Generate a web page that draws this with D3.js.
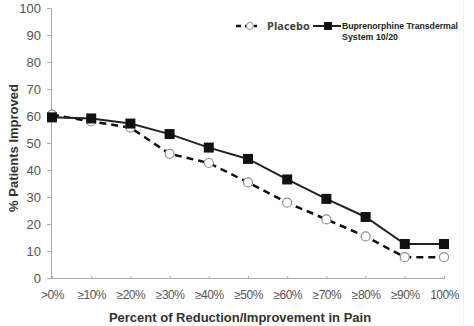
<!DOCTYPE html>
<meta charset="utf-8">
<script src="https://d3js.org/d3.v7.min.js"></script>
<style>
  body { margin: 0; background: #fff; }
</style>
<div id="chart"></div>
<script>

// data
var categories = [">0%", "≥10%", "≥20%", "≥30%", "≥40%", "≥50%", "≥60%", "≥70%", "≥80%", "≥90%", "100%"];
var placebo = [60.5, 58, 55.7, 46, 42.6, 35.4, 27.9, 21.7, 15.4, 7.7, 7.7];
var bupe = [59.5, 59.1, 57.2, 53.3, 48.3, 44.1, 36.5, 29.3, 22.6, 12.6, 12.6];
var yTicks = [0, 10, 20, 30, 40, 50, 60, 70, 80, 90, 100];

var W = 474, H = 326;
var margin = {top: 8, right: 27, bottom: 48, left: 51},
    width = W - margin.left - margin.right,
    height = H - margin.top - margin.bottom;

var svg = d3.select("#chart")
  .append("svg")
    .attr("width", W)
    .attr("height", H)
    .style("font-family", "Arial, 'Liberation Sans', sans-serif");

// faint right edge of the original image
svg.append("line")
  .attr("x1", 463.5).attr("x2", 463.5)
  .attr("y1", 0).attr("y2", H)
  .attr("stroke", "#f0f0f0");

var g = svg.append("g")
  .attr("transform", "translate(" + margin.left + "," + margin.top + ")");

var x = d3.scalePoint()
  .domain(categories)
  .range([1, width - 3]);

var y = d3.scaleLinear()
  .domain([0, 100])
  .range([height, 0]);

// y axis
var yAxis = g.append("g")
  .call(d3.axisLeft(y).tickValues(yTicks).tickSize(4).tickPadding(6));
yAxis.select(".domain").attr("stroke", "#aaa");
yAxis.selectAll(".tick line").attr("stroke", "#aaa");
yAxis.selectAll("text")
  .attr("fill", "#555")
  .style("font-size", "13px");

// x axis
var xAxis = g.append("g")
  .attr("transform", "translate(0," + height + ")")
  .call(d3.axisBottom(x).tickSizeInner(-3).tickSizeOuter(0).tickPadding(12));
xAxis.select(".domain").attr("stroke", "#aaa").attr("d", "M0,0.5H" + (width - 2));
xAxis.selectAll(".tick line").attr("stroke", "#aaa").attr("y1", 1).attr("y2", -2);
xAxis.selectAll("text")
  .attr("fill", "#555")
  .style("font-size", "12px")
  .style("letter-spacing", "-0.5px");

// axis titles
svg.append("text")
  .attr("x", 240)
  .attr("y", 322)
  .attr("text-anchor", "middle")
  .attr("fill", "#333")
  .style("font-size", "13px")
  .style("font-weight", "bold")
  .text("Percent of Reduction/Improvement in Pain");

svg.append("text")
  .attr("transform", "translate(18,148) rotate(-90)")
  .attr("text-anchor", "middle")
  .attr("fill", "#333")
  .style("font-size", "13px")
  .style("font-weight", "bold")
  .text("% Patients Improved");

var line = d3.line()
  .x(function(d, i) { return x(categories[i]); })
  .y(function(d) { return y(d); });

// placebo dashed line + open circles
g.append("path")
  .datum(placebo)
  .attr("d", line)
  .attr("fill", "none")
  .attr("stroke", "#111")
  .attr("stroke-width", 2.5)
  .attr("stroke-dasharray", "7,5");

// bupe solid line
g.append("path")
  .datum(bupe)
  .attr("d", line)
  .attr("fill", "none")
  .attr("stroke", "#222")
  .attr("stroke-width", 2);

g.selectAll(".pc")
  .data(placebo)
  .enter().append("circle")
    .attr("class", "pc")
    .attr("cx", function(d, i) { return x(categories[i]); })
    .attr("cy", function(d) { return y(d); })
    .attr("r", 4.5)
    .attr("fill", "#fff")
    .attr("stroke", "#8a8ea6")
    .attr("stroke-width", 1.2);

g.selectAll(".bs")
  .data(bupe)
  .enter().append("rect")
    .attr("class", "bs")
    .attr("x", function(d, i) { return x(categories[i]) - 5; })
    .attr("y", function(d) { return y(d) - 5; })
    .attr("width", 10)
    .attr("height", 10)
    .attr("fill", "#111");

// legend
var lg = svg.append("g");
lg.append("line")
  .attr("x1", 236).attr("x2", 257).attr("y1", 26).attr("y2", 26)
  .attr("stroke", "#111").attr("stroke-width", 2.5).attr("stroke-dasharray", "5,4");
lg.append("circle")
  .attr("cx", 250).attr("cy", 26).attr("r", 3.5)
  .attr("fill", "#fff").attr("stroke", "#8a8ea6");
lg.append("text")
  .attr("x", 267).attr("y", 30)
  .attr("fill", "#444")
  .style("font-family", "'Open Sans', 'DejaVu Sans', sans-serif")
  .style("font-size", "11px")
  .style("font-weight", "bold")
  .text("Placebo");

lg.append("line")
  .attr("x1", 313).attr("x2", 341).attr("y1", 26).attr("y2", 26)
  .attr("stroke", "#222").attr("stroke-width", 2);
lg.append("rect")
  .attr("x", 324).attr("y", 22).attr("width", 8).attr("height", 8)
  .attr("fill", "#111");
lg.append("text")
  .attr("x", 342).attr("y", 28.5)
  .attr("textLength", 116)
  .attr("lengthAdjust", "spacingAndGlyphs")
  .attr("fill", "#222")
  .style("font-family", "'Liberation Sans', Arial, sans-serif")
  .style("font-size", "9.5px")
  .style("font-weight", "bold")
  .text("Buprenorphine Transdermal");
lg.append("text")
  .attr("x", 342).attr("y", 39.5)
  .attr("textLength", 56)
  .attr("lengthAdjust", "spacingAndGlyphs")
  .attr("fill", "#222")
  .style("font-family", "'Liberation Sans', Arial, sans-serif")
  .style("font-size", "9.5px")
  .style("font-weight", "bold")
  .text("System 10/20");

</script>
